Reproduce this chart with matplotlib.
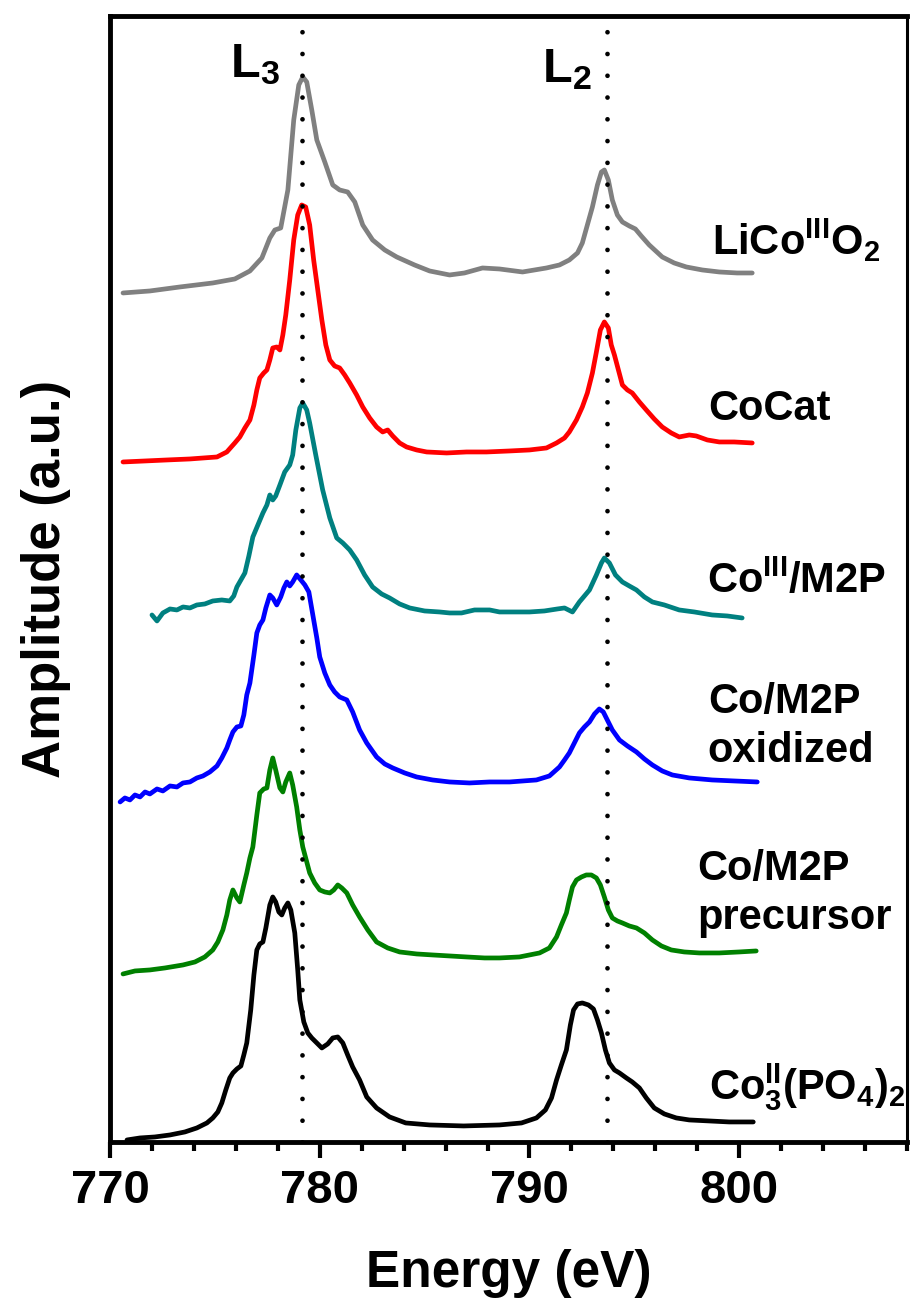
import matplotlib
matplotlib.use('Agg')
import matplotlib.pyplot as plt
import numpy as np
from matplotlib.ticker import MultipleLocator

plt.rcParams['font.family'] = ['Liberation Sans', 'DejaVu Sans']
plt.rcParams['font.weight'] = 'bold'
plt.rcParams['mathtext.fontset'] = 'custom'
plt.rcParams['mathtext.rm'] = 'Liberation Sans:bold'
plt.rcParams['mathtext.it'] = 'Liberation Sans:bold'
plt.rcParams['mathtext.bf'] = 'Liberation Sans:bold'

# Co L-edge spectra, energy in eV, amplitude (a.u.) relative to each curve's start
e_lico = [770.62, 771.90, 773.33, 774.90, 775.95, 776.67, 777.24, 777.62, 777.86, 778.14,
          778.48, 778.76, 779.00, 779.19, 779.38, 779.62, 779.86, 780.24, 780.62, 780.95,
          781.33, 781.67, 782.05, 782.52, 783.10, 783.67, 784.52, 785.24, 786.19, 786.90,
          787.76, 788.57, 789.67, 790.81, 791.43, 791.90, 792.29, 792.52, 792.76, 793.00,
          793.24, 793.43, 793.57, 793.76, 793.95, 794.19, 794.43, 794.76, 795.05, 795.33,
          795.71, 796.33, 796.90, 797.48, 798.24, 799.05, 799.90, 800.62]
a_lico = [0.00, 0.02, 0.06, 0.10, 0.14, 0.22, 0.35, 0.55, 0.63, 0.65,
          1.03, 1.73, 2.08, 2.16, 2.11, 1.83, 1.53, 1.31, 1.08, 1.03,
          1.01, 0.91, 0.68, 0.53, 0.43, 0.36, 0.28, 0.22, 0.18, 0.20,
          0.25, 0.24, 0.21, 0.25, 0.28, 0.33, 0.40, 0.50, 0.68, 0.86,
          1.08, 1.21, 1.23, 1.13, 0.93, 0.78, 0.71, 0.67, 0.64, 0.57,
          0.48, 0.36, 0.30, 0.26, 0.23, 0.21, 0.20, 0.20]

e_cocat = [770.62, 771.67, 772.71, 773.81, 775.10, 775.57, 775.95, 776.19, 776.43, 776.67,
           776.86, 777.00, 777.14, 777.33, 777.48, 777.62, 777.76, 777.95, 778.10, 778.24,
           778.38, 778.57, 778.76, 778.95, 779.14, 779.33, 779.52, 779.71, 779.86, 780.10,
           780.29, 780.48, 780.71, 780.95, 781.19, 781.43, 781.76, 782.05, 782.38, 782.71,
           783.00, 783.24, 783.48, 783.81, 784.14, 784.62, 785.10, 786.05, 787.00, 787.95,
           789.05, 790.00, 790.81, 791.29, 791.67, 791.90, 792.24, 792.52, 792.76, 793.00,
           793.19, 793.38, 793.57, 793.76, 793.90, 794.05, 794.24, 794.43, 794.67, 794.90,
           795.24, 795.57, 795.95, 796.33, 796.76, 797.14, 797.62, 797.95, 798.48, 799.05,
           799.76, 800.62]
a_cocat = [0.00, 0.01, 0.02, 0.03, 0.05, 0.10, 0.19, 0.25, 0.34, 0.42,
           0.57, 0.72, 0.84, 0.89, 0.92, 1.02, 1.14, 1.15, 1.12, 1.27,
           1.47, 1.82, 2.22, 2.47, 2.57, 2.55, 2.37, 2.02, 1.79, 1.42,
           1.17, 1.02, 0.96, 0.94, 0.87, 0.79, 0.67, 0.55, 0.44, 0.35,
           0.30, 0.32, 0.26, 0.19, 0.15, 0.12, 0.10, 0.09, 0.10, 0.10,
           0.11, 0.12, 0.14, 0.19, 0.24, 0.30, 0.42, 0.55, 0.69, 0.89,
           1.10, 1.32, 1.40, 1.34, 1.17, 1.07, 0.92, 0.77, 0.72, 0.69,
           0.60, 0.52, 0.43, 0.35, 0.29, 0.25, 0.27, 0.26, 0.22, 0.20,
           0.20, 0.19]

e_co3m2p = [772.00, 772.24, 772.52, 772.86, 773.19, 773.48, 773.81, 774.14, 774.52, 774.90,
            775.33, 775.71, 775.90, 776.05, 776.24, 776.43, 776.62, 776.81, 777.05, 777.29,
            777.48, 777.62, 777.76, 777.90, 778.10, 778.33, 778.57, 778.71, 778.86, 779.05,
            779.19, 779.38, 779.52, 779.81, 780.14, 780.48, 780.81, 781.10, 781.43, 781.76,
            782.14, 782.52, 782.95, 783.33, 783.81, 784.29, 785.00, 785.71, 786.19, 786.76,
            787.38, 788.10, 788.57, 789.29, 790.00, 790.71, 791.33, 791.67, 792.05, 792.38,
            792.86, 793.19, 793.43, 793.57, 793.81, 794.10, 794.43, 794.76, 795.10, 795.48,
            795.86, 796.43, 797.14, 797.86, 798.71, 799.43, 800.14]
a_co3m2p = [-0.03, -0.09, -0.01, 0.03, 0.02, 0.05, 0.04, 0.07, 0.08, 0.11,
            0.12, 0.11, 0.16, 0.25, 0.32, 0.39, 0.56, 0.75, 0.87, 0.99,
            1.07, 1.17, 1.12, 1.16, 1.27, 1.40, 1.47, 1.57, 1.82, 2.04,
            2.09, 2.02, 1.89, 1.57, 1.22, 0.94, 0.74, 0.69, 0.62, 0.52,
            0.37, 0.25, 0.18, 0.14, 0.08, 0.04, 0.01, 0.00, -0.01, -0.01,
            0.02, 0.02, 0.00, 0.00, 0.00, 0.01, 0.03, 0.04, 0.00, 0.10,
            0.22, 0.37, 0.49, 0.54, 0.49, 0.37, 0.30, 0.26, 0.22, 0.15,
            0.10, 0.07, 0.02, 0.00, -0.03, -0.04, -0.06]

e_ox = [770.48, 770.71, 770.95, 771.19, 771.43, 771.67, 771.90, 772.24, 772.52, 772.86,
        773.19, 773.48, 773.81, 774.14, 774.43, 774.76, 775.10, 775.33, 775.57, 775.71,
        775.86, 776.05, 776.24, 776.38, 776.52, 776.67, 776.86, 777.00, 777.14, 777.29,
        777.43, 777.62, 777.76, 777.95, 778.14, 778.29, 778.43, 778.57, 778.71, 778.90,
        779.10, 779.29, 779.48, 779.67, 779.86, 780.00, 780.24, 780.48, 780.71, 780.95,
        781.29, 781.57, 781.90, 782.24, 782.71, 783.10, 783.48, 784.05, 784.62, 785.38,
        786.19, 787.14, 788.10, 789.05, 790.33, 790.95, 791.43, 791.67, 791.90, 792.14,
        792.38, 792.62, 792.86, 793.10, 793.33, 793.52, 793.71, 793.95, 794.29, 794.67,
        795.10, 795.48, 795.86, 796.33, 796.81, 797.62, 798.71, 799.76, 800.86]
a_ox = [0.00, 0.04, 0.02, 0.07, 0.05, 0.10, 0.08, 0.13, 0.11, 0.16,
        0.15, 0.19, 0.20, 0.24, 0.26, 0.30, 0.36, 0.44, 0.54, 0.62,
        0.70, 0.75, 0.76, 0.87, 1.07, 1.19, 1.47, 1.69, 1.77, 1.82,
        1.94, 2.07, 2.04, 1.97, 2.05, 2.14, 2.20, 2.16, 2.20, 2.27,
        2.22, 2.17, 2.10, 1.87, 1.64, 1.45, 1.29, 1.17, 1.10, 1.05,
        1.02, 0.90, 0.72, 0.59, 0.45, 0.38, 0.34, 0.29, 0.25, 0.22,
        0.20, 0.19, 0.20, 0.20, 0.22, 0.26, 0.35, 0.42, 0.49, 0.59,
        0.69, 0.75, 0.80, 0.88, 0.93, 0.90, 0.82, 0.72, 0.62, 0.56,
        0.50, 0.43, 0.37, 0.31, 0.27, 0.24, 0.22, 0.21, 0.20]

e_prec = [770.62, 771.19, 771.90, 772.62, 773.48, 774.05, 774.52, 774.90, 775.14, 775.38,
          775.57, 775.71, 775.86, 776.05, 776.19, 776.38, 776.52, 776.67, 776.81, 777.00,
          777.14, 777.33, 777.48, 777.62, 777.76, 777.90, 778.10, 778.24, 778.38, 778.57,
          778.71, 778.90, 779.05, 779.19, 779.38, 779.52, 779.76, 780.00, 780.24, 780.48,
          780.67, 780.86, 781.05, 781.29, 781.57, 781.90, 782.29, 782.71, 783.24, 783.81,
          784.62, 785.38, 786.19, 787.00, 787.86, 788.57, 789.52, 790.48, 790.95, 791.29,
          791.52, 791.76, 791.90, 792.05, 792.24, 792.48, 792.71, 792.95, 793.19, 793.38,
          793.57, 793.76, 793.95, 794.19, 794.43, 794.76, 795.10, 795.48, 795.86, 796.29,
          796.76, 797.38, 798.10, 799.05, 800.00, 800.81]
a_prec = [0.00, 0.03, 0.04, 0.06, 0.09, 0.12, 0.17, 0.24, 0.32, 0.44,
          0.59, 0.74, 0.84, 0.76, 0.72, 0.89, 1.01, 1.16, 1.27, 1.59,
          1.81, 1.85, 1.86, 2.04, 2.16, 2.04, 1.86, 1.82, 1.92, 2.01,
          1.89, 1.67, 1.44, 1.27, 1.12, 1.01, 0.91, 0.84, 0.82, 0.81,
          0.84, 0.89, 0.86, 0.81, 0.69, 0.57, 0.44, 0.32, 0.26, 0.22,
          0.20, 0.19, 0.18, 0.17, 0.16, 0.16, 0.17, 0.21, 0.26, 0.37,
          0.49, 0.61, 0.74, 0.87, 0.94, 0.97, 0.99, 0.99, 0.96, 0.89,
          0.77, 0.64, 0.56, 0.53, 0.51, 0.48, 0.46, 0.41, 0.34, 0.28,
          0.24, 0.22, 0.21, 0.21, 0.22, 0.23]

e_po4 = [770.81, 771.43, 772.14, 772.86, 773.57, 774.14, 774.62, 774.90, 775.14, 775.33,
         775.52, 775.71, 775.86, 776.05, 776.24, 776.38, 776.52, 776.71, 776.86, 777.00,
         777.14, 777.29, 777.43, 777.62, 777.76, 777.90, 778.05, 778.19, 778.33, 778.48,
         778.62, 778.81, 778.95, 779.05, 779.24, 779.43, 779.62, 779.86, 780.10, 780.38,
         780.62, 780.86, 781.10, 781.33, 781.57, 781.90, 782.24, 782.71, 783.33, 784.10,
         785.24, 786.86, 788.57, 789.62, 790.33, 790.76, 791.05, 791.29, 791.52, 791.76,
         791.95, 792.10, 792.29, 792.52, 792.81, 793.05, 793.24, 793.43, 793.62, 793.81,
         794.05, 794.29, 794.62, 794.90, 795.24, 795.57, 795.95, 796.43, 797.00, 797.62,
         798.57, 799.52, 800.67]
a_po4 = [0.00, 0.02, 0.03, 0.05, 0.08, 0.12, 0.17, 0.22, 0.28, 0.37,
         0.50, 0.62, 0.67, 0.71, 0.74, 0.85, 0.97, 1.30, 1.65, 1.90,
         1.96, 1.98, 2.12, 2.35, 2.43, 2.38, 2.28, 2.25, 2.32, 2.37,
         2.30, 2.07, 1.70, 1.40, 1.18, 1.07, 1.02, 0.97, 0.92, 0.96,
         1.02, 1.03, 0.97, 0.85, 0.73, 0.60, 0.43, 0.32, 0.23, 0.17,
         0.15, 0.14, 0.15, 0.17, 0.22, 0.30, 0.42, 0.60, 0.75, 0.90,
         1.15, 1.30, 1.36, 1.37, 1.35, 1.31, 1.20, 1.07, 0.90, 0.77,
         0.70, 0.67, 0.62, 0.58, 0.52, 0.42, 0.32, 0.26, 0.22, 0.20,
         0.19, 0.18, 0.18]

energies = [e_lico, e_cocat, e_co3m2p, e_ox, e_prec, e_po4]
amplitudes = [a_lico, a_cocat, a_co3m2p, a_ox, a_prec, a_po4]
offsets = [8.49, 6.80, 5.30, 3.40, 1.68, 0.02]
colors = ['#808080', '#ff0000', '#008080', '#0000ff', '#008000', '#000000']
names = [r'LiCo$^{III}$O$_{2}$', 'CoCat', r'Co$^{III}$/M2P', 'Co/M2P\noxidized',
         'Co/M2P\nprecursor', r'Co$_{3}^{II}$(PO$_{4}$)$_{2}$']
# label anchor = baseline of the last line
name_pos = [(798.7, 8.87), (798.5, 7.22), (798.45, 5.49), (798.5, 3.80),
            (798.0, 2.13), (798.55, 0.42)]

edges = [779.15, 793.7]
edge_names = [r'L$_{3}$', r'L$_{2}$']
edge_pos = [(775.7, 10.65), (790.6, 10.60)]

fig = plt.figure(figsize=(9.1, 12.99), dpi=100)
ax = fig.add_axes([0.1209, 0.1209, 0.8758, 0.8668])

for e, a, off, c in zip(energies, amplitudes, offsets, colors):
    ax.plot(e, np.array(a) + off, color=c, lw=3.4, solid_capstyle='round',
            solid_joinstyle='round')

for x in edges:
    ax.axvline(x, color='k', lw=3.4, ls=(0, (0.01, 4.6)), dash_capstyle='round', zorder=5)

for t, (x, y) in zip(edge_names, edge_pos):
    ax.text(x, y, t, fontsize=35, fontweight='bold', ha='left', va='baseline')

for t, (x, y) in zip(names, name_pos):
    ax.text(x, y, t, fontsize=30, fontweight='bold', ha='left', va='baseline',
            linespacing=1.3)

ax.set_xlim(770, 808)
ax.set_ylim(0, 11.26)
ax.xaxis.set_major_locator(MultipleLocator(10))
ax.xaxis.set_minor_locator(MultipleLocator(2))
ax.tick_params(axis='x', which='major', direction='out', length=11.5, width=3,
               labelsize=34, pad=8)
ax.tick_params(axis='x', which='minor', direction='out', length=6.5, width=3)
ax.set_yticks([])
for lab in ax.get_xticklabels():
    lab.set_fontweight('bold')

for s in ['left', 'bottom', 'top']:
    ax.spines[s].set_linewidth(3.5)
ax.spines['right'].set_linewidth(2.2)

ax.set_xlabel('Energy (eV)', fontsize=37, fontweight='bold', labelpad=26)
ax.set_ylabel('Amplitude (a.u.)', fontsize=38, fontweight='bold', labelpad=28)

fig.savefig('out.png', dpi=100)
